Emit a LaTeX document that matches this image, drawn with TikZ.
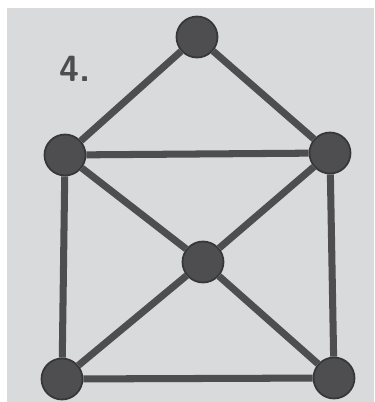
\documentclass[tikz,border=0pt]{standalone}
\usepackage{tikz}
\usetikzlibrary{positioning}

\definecolor{paper}{HTML}{D8DADB}
\definecolor{ink}{HTML}{4E4E50}

\begin{document}
\begin{tikzpicture}[
    vertex/.style={
        circle, draw=ink!70!black, line width=1pt,
        fill=ink, minimum size=0.82cm, inner sep=0pt
    },
    edge/.style={line width=4pt, color=ink}
]
    \useasboundingbox (0,0) rectangle (7.5,8.04);
    \fill[white] (0,0) rectangle (7.5,8.04);
    \fill[paper] (0.14,0) rectangle (7.48,7.88);

    \node[font=\sffamily\bfseries\huge, text=ink] (num) at (1.5,6.66) {4.};

    \node[vertex] (top) at (3.94,7.30) {};
    \node[vertex] (ul) at (1.30,4.94) {};
    \node[vertex] (ur) at (6.60,4.98) {};
    \node[vertex] (mid) at (4.06,2.80) {};
    \node[vertex] (bl) at (1.24,0.46) {};
    \node[vertex] (br) at (6.68,0.48) {};

    \draw[edge] (top) -- (ul);
    \draw[edge] (top) -- (ur);
    \draw[edge] (ul) -- (ur);
    \draw[edge] (ul) -- (bl);
    \draw[edge] (ur) -- (br);
    \draw[edge] (ul) -- (mid);
    \draw[edge] (ur) -- (mid);
    \draw[edge] (mid) -- (bl);
    \draw[edge] (mid) -- (br);
    \draw[edge] (bl) -- (br);
\end{tikzpicture}
\end{document}
